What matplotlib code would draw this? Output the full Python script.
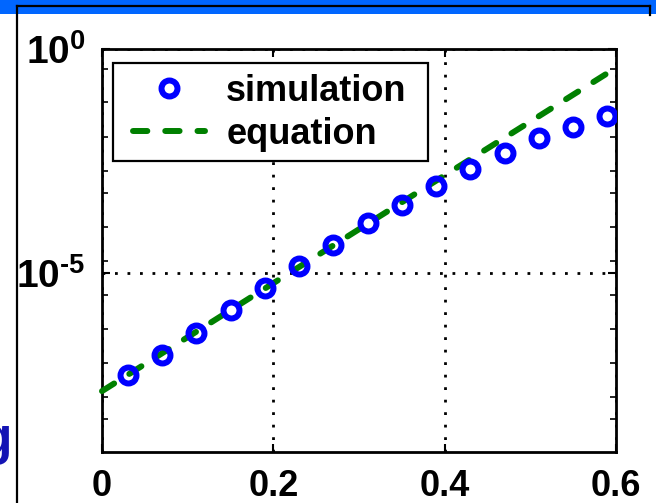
import matplotlib
matplotlib.use('Agg')
import matplotlib.pyplot as plt
from matplotlib.patches import Rectangle
from matplotlib.lines import Line2D
from matplotlib.ticker import FixedLocator, FixedFormatter, NullFormatter

# ---------------- data ----------------
sim_x = [0.03, 0.07, 0.11, 0.15, 0.19, 0.23, 0.27, 0.31, 0.35, 0.39,
         0.43, 0.47, 0.51, 0.55, 0.59]
sim_y = [5.25e-8, 1.47e-7, 4.62e-7, 1.48e-6, 4.53e-6, 1.40e-5, 4.20e-5,
         1.28e-4, 3.28e-4, 8.59e-4, 2.11e-3, 4.69e-3, 1.01e-2, 1.84e-2,
         3.19e-2]
eq_x = [0.0, 0.2, 0.4, 0.6]
eq_y = [2.29e-8, 5.89e-6, 1.51e-3, 0.380]

x_ticks = [0, 0.2, 0.4, 0.6]
x_tick_labels = ['0', '0.2', '0.4', '0.6']
y_major = [1.0, 1e-5]
y_major_labels = [r'$10^{0}$', r'$10^{\text{-}5}$']
y_minor = [0.357, 0.0655, 0.01084, 1.888e-3, 6.08e-4, 1.059e-4, 1.845e-5,
           3.21e-6, 5.58e-7, 9.73e-8, 1.694e-8, 5.47e-9]
y_limits = [1e-9, 1.0]
x_limits = [0, 0.6]
legend_labels = ['simulation', 'equation']

# ---------------- style ----------------
plt.rcParams['font.family'] = ['Liberation Sans', 'DejaVu Sans']
plt.rcParams['font.weight'] = 'bold'
plt.rcParams['mathtext.fontset'] = 'custom'
plt.rcParams['mathtext.rm'] = 'Liberation Sans:bold'
plt.rcParams['mathtext.bf'] = 'Liberation Sans:bold'
plt.rcParams['mathtext.default'] = 'regular'

W, H = 656, 503
fig = plt.figure(figsize=(W / 100, H / 100), dpi=100)
fig.patch.set_facecolor('white')

def fx(px):
    return px / W

def fy(py):
    return 1 - py / H

ax = fig.add_axes([fx(102), fy(452), fx(616) - fx(102), fy(49) - fy(452)])

ax.plot(eq_x, eq_y, color='#008000', lw=4.3, ls=(0, (2.4, 3.0)),
        dash_capstyle='round', solid_capstyle='round',
        label=legend_labels[1], zorder=3, clip_on=False)
ax.plot(sim_x, sim_y, ls='none', marker='o', mfc='none', mec='#0000ff',
        ms=11.5, mew=4.3, label=legend_labels[0], zorder=4)

ax.set_yscale('log')
ax.set_xlim(x_limits)
ax.set_ylim(y_limits)

ax.set_xticks(x_ticks)
ax.set_xticklabels(x_tick_labels, fontsize=26, fontweight='bold')
ax.xaxis.set_minor_locator(FixedLocator([]))
ax.yaxis.set_major_locator(FixedLocator(y_major))
ax.yaxis.set_major_formatter(FixedFormatter(y_major_labels))
ax.yaxis.set_minor_locator(FixedLocator(y_minor))
ax.yaxis.set_minor_formatter(NullFormatter())
for lab in ax.get_yticklabels():
    lab.set_fontsize(28)

ax.tick_params(which='major', direction='in', length=6, width=1.5,
               top=True, right=True, colors='black')
ax.tick_params(axis='x', which='major', pad=12)
ax.tick_params(axis='y', which='major', pad=12)
ax.tick_params(which='minor', direction='in', length=4, width=1.2,
               left=True, right=True)

for s in ax.spines.values():
    s.set_linewidth(2.0)
    s.set_color('black')

ax.grid(True, which='major', color='black', lw=2.0, ls=(0, (1, 3.5)))
ax.set_axisbelow(False)

# legend: frame drawn separately so its padding can match
leg_frame = Rectangle((fx(113), fy(161)), fx(428) - fx(113), fy(63) - fy(161),
                      transform=fig.transFigure, facecolor='white',
                      edgecolor='black', lw=1.6, zorder=5)
fig.patches.append(leg_frame)
h, l = ax.get_legend_handles_labels()
leg = fig.legend([h[1], h[0]], [l[1], l[0]], loc='center left',
                 bbox_to_anchor=(fx(133), fy(113)), frameon=False,
                 borderpad=0, borderaxespad=0, numpoints=1,
                 handlelength=2.0, handletextpad=0.58, labelspacing=0.22,
                 prop={'size': 26, 'weight': 'bold'})
leg.set_zorder(6)

# slide decorations around the figure
fig.patches.append(Rectangle((0, fy(14)), 1, fy(0) - fy(14),
                             transform=fig.transFigure, facecolor='#0066ff',
                             edgecolor='none', zorder=1))
fig.lines.append(Line2D([fx(17), fx(650)], [fy(6), fy(6)],
                        transform=fig.transFigure, color='black', lw=1.6))
fig.lines.append(Line2D([fx(17), fx(17)], [fy(6), fy(503)],
                        transform=fig.transFigure, color='black', lw=1.6))
fig.lines.append(Line2D([fx(650), fx(650)], [fy(6), fy(15)],
                        transform=fig.transFigure, color='black', lw=1.6))
fig.text(fx(12), fy(454), 'g', ha='right', va='baseline', fontsize=37,
         fontweight='bold', color='#1414b4')

fig.savefig('out.png', dpi=100)
